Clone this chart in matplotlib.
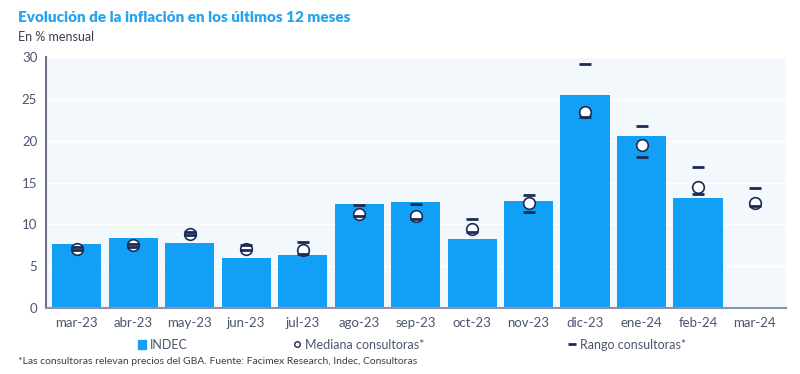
import numpy as np
import matplotlib.pyplot as plt
from matplotlib.lines import Line2D
from matplotlib.patches import Patch

meses = ['mar-23', 'abr-23', 'may-23', 'jun-23', 'jul-23', 'ago-23', 'sep-23',
         'oct-23', 'nov-23', 'dic-23', 'ene-24', 'feb-24', 'mar-24']
indec = [7.7, 8.4, 7.8, 6.0, 6.3, 12.4, 12.7, 8.3, 12.8, 25.5, 20.6, 13.2, np.nan]
mediana = [7.1, 7.5, 8.9, 7.1, 6.9, 11.3, 11.0, 9.5, 12.6, 23.4, 19.5, 14.5, 12.6]
rango_max = [7.3, 7.7, 9.1, 7.5, 7.9, 12.3, 12.4, 10.6, 13.5, 29.1, 21.7, 16.8, 14.4]
rango_min = [6.9, 7.3, 8.7, 6.9, 6.5, 11.0, 10.6, 9.1, 11.5, 22.8, 18.1, 13.6, 12.2]

azul = '#12a0f7'
navy = '#1c2b55'
gris = '#4a5570'

plt.rcParams['font.family'] = ['Lato', 'DejaVu Sans']

fig = plt.figure(figsize=(8, 3.74), dpi=100)
ax = fig.add_axes([0.057, 0.176, 0.925, 0.672])
ax.set_facecolor('#f3f8fd')

x = np.arange(len(meses))
ax.bar(x, indec, width=0.87, color=azul, zorder=2)
ax.scatter(x, mediana, marker='o', s=70, facecolor='white', edgecolor=navy,
           linewidths=1.2, zorder=3)
ax.scatter(x, rango_max, marker='_', s=80, color=navy, linewidths=2, zorder=4)
ax.scatter(x, rango_min, marker='_', s=80, color=navy, linewidths=2, zorder=4)

ax.set_xlim(-0.55, len(meses) - 0.45)
ax.set_ylim(0, 30)
ax.set_yticks(range(0, 31, 5))
ax.set_xticks(x)
ax.set_xticklabels(meses)
ax.grid(axis='y', color='white', linewidth=1, zorder=0)
ax.tick_params(length=0, labelsize=9.5, colors=gris, pad=6)
for s in ['top', 'right']:
    ax.spines[s].set_visible(False)
ax.spines['left'].set_color('#6a7388')
ax.spines['left'].set_linewidth(1.5)
ax.spines['bottom'].set_color('#8a92a3')
ax.spines['bottom'].set_linewidth(1.5)

fig.text(0.022, 0.952, 'Evolución de la inflación en los últimos 12 meses',
         fontsize=11, fontweight='heavy', color='#2aa3ea', va='center')
fig.text(0.022, 0.900, 'En % mensual', fontsize=9, color='#3a3f4e', va='center')

h1 = Patch(color=azul)
h2 = Line2D([], [], marker='o', linestyle='', markersize=4, markerfacecolor='white',
            markeredgecolor=navy)
h3 = Line2D([], [], marker='_', linestyle='', markersize=6, color=navy,
            markeredgewidth=2)
for h, lab, xp in [(h1, 'INDEC', 0.172), (h2, 'Mediana consultoras*', 0.366),
                   (h3, 'Rango consultoras*', 0.710)]:
    leg = fig.legend([h], [lab], loc='center left', bbox_to_anchor=(xp, 0.078),
                     frameon=False, fontsize=9, handlelength=0.7, handletextpad=0.3,
                     borderpad=0, borderaxespad=0)
    for t in leg.get_texts():
        t.set_color(gris)

fig.text(0.022, 0.033, '*Las consultoras relevan precios del GBA. Fuente: Facimex Research, Indec, Consultoras',
         fontsize=7.5, color='#3a3f4e', va='center')

fig.savefig('out.png', dpi=100)
